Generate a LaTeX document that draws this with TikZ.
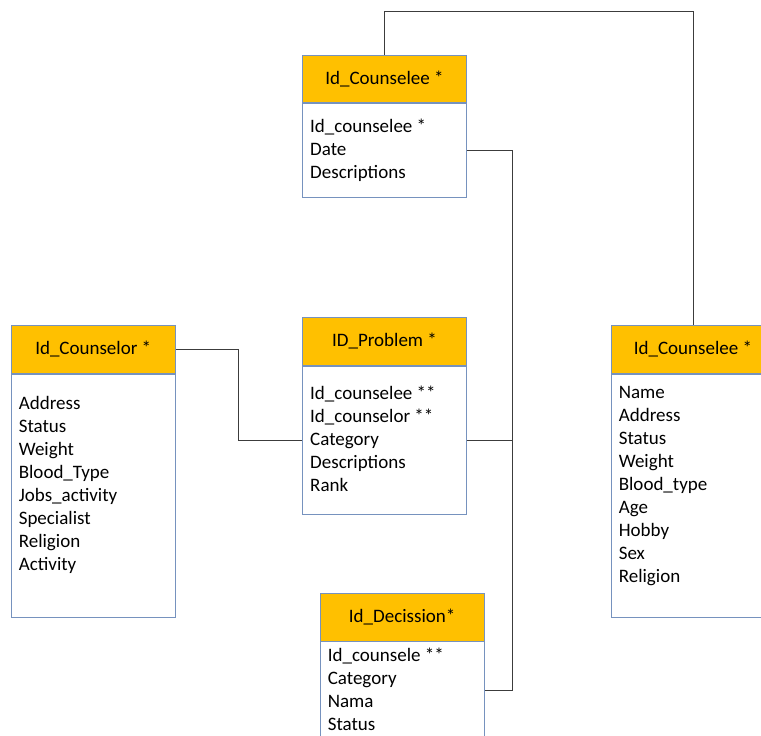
\documentclass[tikz,border=0pt]{standalone}
\usepackage{fontspec}
\setmainfont{Carlito}
\usetikzlibrary{calc}
\definecolor{hdrfill}{RGB}{255,192,0}
\definecolor{boxline}{RGB}{118,146,190}
\definecolor{conn}{RGB}{60,60,60}
\begin{document}
\begin{tikzpicture}[x=1pt,y=-1pt,
  hdr/.style={draw=boxline, fill=hdrfill, line width=0.9pt, minimum width=164pt, inner sep=0pt, font=\fontsize{19}{23}\selectfont},
  bodybox/.style={draw=boxline, fill=white, line width=0.9pt, minimum width=164pt, inner sep=0pt, anchor=north},
  fields/.style={anchor=north west, inner sep=0pt, align=left, font=\fontsize{19}{23}\selectfont},
  link/.style={draw=conn, line width=0.9pt}]
\useasboundingbox (0,0) rectangle (761,736);
\clip (0,0) rectangle (761,736);

% Box A: top Id_Counselee
\node[hdr, minimum height=47.5pt] (hA) at (384.5,78.75) {Id\_Counselee *};
\node[bodybox, minimum height=94pt] (bA) at (hA.south) {};
\node[fields] (tA) at (310,116.6) {\strut Id\_counselee *\\Date\\Descriptions};

% Box B: Id_Counselor
\node[hdr, minimum height=47.6pt] (hB) at (93.25,349.5) {Id\_Counselor *};
\node[bodybox, minimum height=243.4pt] (bB) at (hB.south) {};
\node[fields] (tB) at (18.6,392.9) {\strut Address\\Status\\Weight\\Blood\_Type\\Jobs\_activity\\Specialist\\Religion\\Activity};

% Box C: ID_Problem
\node[hdr, minimum height=48pt] (hC) at (384.5,341.3) {ID\_Problem *};
\node[bodybox, minimum height=148pt] (bC) at (hC.south) {};
\node[fields] (tC) at (310,383.2) {\strut Id\_counselee **\\Id\_counselor **\\Category\\Descriptions\\Rank};

% Box E: right Id_Counselee
\node[hdr, minimum height=47.6pt] (hE) at (693,349.5) {Id\_Counselee *};
\node[bodybox, minimum height=243.4pt] (bE) at (hE.south) {};
\node[fields] (tE) at (618.6,382.2) {\strut Name\\Address\\Status\\Weight\\Blood\_type\\Age\\Hobby\\Sex\\Religion};

% Box D: Id_Decission
\node[hdr, minimum height=47.7pt] (hD) at (402.15,617.15) {Id\_Decission*};
\node[bodybox, minimum height=130pt] (bD) at (hD.south) {};
\node[fields] (tD) at (327.6,645.6) {\strut Id\_counsele **\\Category\\Nama\\Status};

% Connectors
\coordinate (bus) at (512,690);
\draw[link] (hA.north) -- ++(0,-43) -| (hE.north);
\draw[link] (bA.east) -| (bus) -- (bus -| bD.east);
\draw[link] (bC.east) -- (bC.east -| bus);
\draw[link] (hB.east) -- ++(63.2,0) |- (bC.west);
\end{tikzpicture}
\end{document}
